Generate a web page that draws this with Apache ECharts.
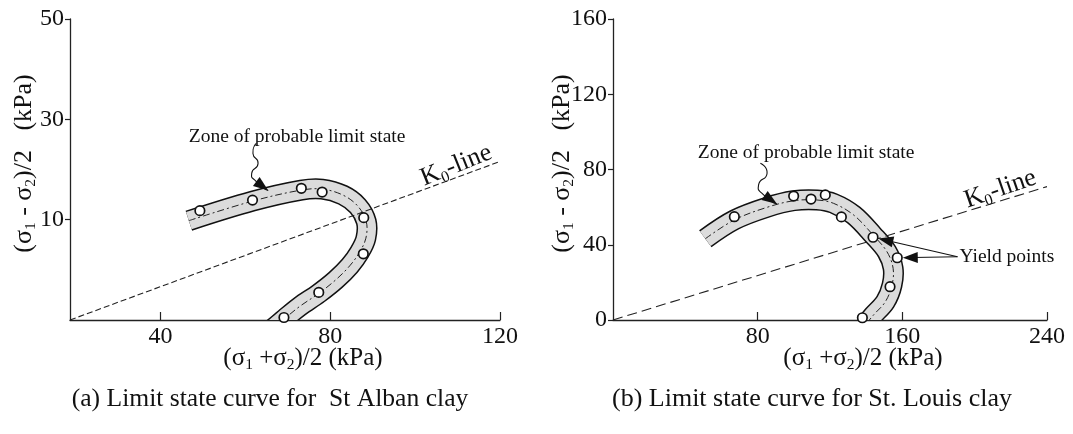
<!DOCTYPE html>
<html><head><meta charset="utf-8">
<script src="https://cdn.jsdelivr.net/npm/echarts@6/dist/echarts.min.js"></script>
<style>html,body{margin:0;padding:0;background:#fff}#c{width:1073px;height:434px}</style>
</head><body><div id="c"></div>
<script>
// ---------- Panel (a): St Alban clay ----------
const aXRange = [18.7, 120];
const aYRange = [-10, 50];
const aXTicks = [40, 80, 120];
const aYTicks = [10, 30, 50];
const aPoints = [[49.3,11.8],[61.7,13.9],[73.2,16.25],[78.1,15.5],[87.9,10.4],[87.8,3.2],[77.3,-4.5],[69.1,-9.5]];
const aZone = [[46.7,9.8],[61.7,13.7],[73.2,15.9],[78.1,16.1],[83.0,14.9],[86.5,12.7],[88.5,9.6],[88.4,6.3],[86.9,3.5],[84.6,0.8],[81.3,-2.0],[77.3,-4.7],[72.8,-7.3],[69.3,-9.7],[66.5,-11.7]];
const aK0 = [[18.7,-10],[120,21.6]];
const aZoneLabelAt = [72.2, 26.5];
const aZoneArrow = [[62.6,25.2],[61.8,23.2],[63.0,21.2],[61.5,19.2],[62.6,17.6],[65.4,15.8]];
const aK0LabelAt = [109.7, 20.8];

// ---------- Panel (b): St. Louis clay ----------
const bXRange = [0, 240];
const bYRange = [0, 160];
const bXTicks = [80, 160, 240];
const bYTicks = [0, 40, 80, 120, 160];
const bPoints = [[67.1,54.9],[99.9,65.9],[109.5,64.3],[117.4,66.5],[126.3,54.8],[143.8,44.0],[157.2,33.1],[153.2,17.7],[137.9,1.2]];
const bZone = [[51.05,43.2],[67.1,53.2],[85.2,59.9],[99.9,63.4],[112.8,63.8],[122.0,62.0],[133.1,55.8],[143.8,45.2],[151.5,36.3],[154.9,27.5],[154.3,18.6],[150.6,9.7],[144.1,2.7],[139.5,-2.7]];
const bK0 = [[0,0],[240,70.9]];
const bZoneLabelAt = [106.8, 88.9];
const bZoneArrow = [[81.5,83.3],[85.2,78.0],[80.5,71.8],[83.3,66.5],[90.7,61.7]];
const bK0LabelAt = [214.2, 69.6];
const bYieldAt = [190.5, 33.6];
const bYieldTargets = [5, 6]; // indices into bPoints

const TEXTS = {
  xName: '(σ{s|1} +σ{s|2})/2 (kPa)',
  yName: '(σ{s|1} - σ{s|2})/2   (kPa)',
  zone: 'Zone of probable limit state',
  k0: 'K{s|0}-line',
  yieldPts: 'Yield points',
  capA: '(a) Limit state curve for  St Alban clay',
  capB: '(b) Limit state curve for St. Louis clay'
};

const FONT = '"Liberation Serif","Times New Roman",serif';
const INK = '#111';

function nameStyle(size, padLeft) {
  return {
    fontFamily: FONT, fontSize: size, color: INK, lineHeight: 30,
    padding: [0, 0, 0, padLeft || 0],
    rich: { s: { fontFamily: FONT, fontSize: 15.5, color: INK, lineHeight: 18, verticalAlign: 'bottom' } }
  };
}

function makeX(grid, range, ticks, padLeft) {
  return {
    gridIndex: grid, type: 'value', min: range[0], max: range[1],
    axisLine: { show: true, onZero: false, lineStyle: { color: '#222', width: 1.3 } },
    axisTick: { show: true, inside: true, length: 8, customValues: ticks, lineStyle: { color: '#222', width: 1.2 } },
    axisLabel: { customValues: ticks, fontFamily: FONT, fontSize: 24, color: INK, margin: 5 },
    splitLine: { show: false },
    name: TEXTS.xName, nameLocation: 'middle', nameGap: 23, nameMoveOverlap: false,
    nameTextStyle: nameStyle(25, padLeft)
  };
}
function makeY(grid, range, ticks, gap) {
  return {
    gridIndex: grid, type: 'value', min: range[0], max: range[1],
    axisLine: { show: true, onZero: false, lineStyle: { color: '#222', width: 1.3 } },
    axisTick: { show: true, inside: false, length: 5, customValues: ticks, lineStyle: { color: '#222', width: 1.2 } },
    axisLabel: { customValues: ticks, fontFamily: FONT, fontSize: 24, color: INK, margin: 6 },
    splitLine: { show: false },
    name: TEXTS.yName, nameLocation: 'middle', nameGap: gap, nameMoveOverlap: false,
    nameTextStyle: nameStyle(26, 12)
  };
}

const SMOOTH = 0.35;
function bandRender(line) {
  return function (params, api) {
    if (params.dataIndex !== 0) return null;
    const pts = line.map(p => api.coord(p));
    return {
      type: 'group', children: [
        { type: 'polyline', shape: { points: pts, smooth: SMOOTH }, style: { stroke: '#111', lineWidth: 21, fill: null, lineJoin: 'round', lineCap: 'butt' } },
        { type: 'polyline', shape: { points: pts, smooth: SMOOTH }, style: { stroke: '#dcdcdc', lineWidth: 18, fill: null, lineJoin: 'round', lineCap: 'butt' } },
        { type: 'polyline', shape: { points: pts, smooth: SMOOTH }, style: { stroke: '#222', lineWidth: 1, fill: null, lineDash: [7, 3, 2, 3] } }
      ]
    };
  };
}

function head(tip, from, len, hw) {
  let dx = tip[0] - from[0], dy = tip[1] - from[1];
  const d = Math.sqrt(dx * dx + dy * dy) || 1; dx /= d; dy /= d;
  const bx = tip[0] - dx * len, by = tip[1] - dy * len;
  return { type: 'polygon', shape: { points: [tip, [bx - dy * hw, by + dx * hw], [bx + dy * hw, by - dx * hw]] }, style: { fill: '#111', stroke: null } };
}

function textEl(pos, text, size, align, rot) {
  return {
    type: 'text', x: pos[0], y: pos[1], rotation: (rot || 0) * Math.PI / 180,
    style: {
      text: text, fontFamily: FONT, fontSize: size, fill: INK,
      align: align, verticalAlign: 'middle', textAlign: align, textVerticalAlign: 'middle',
      lineHeight: size + 4,
      rich: { s: { fontFamily: FONT, fontSize: Math.round(size * 0.62), fill: INK, lineHeight: Math.round(size * 0.7), verticalAlign: 'bottom' } }
    }
  };
}

function annoRender(zoneAt, arrow, k0At, k0Rot, yieldAt, yieldTargets, points) {
  return function (params, api) {
    if (params.dataIndex !== 0) return null;
    const kids = [];
    kids.push(textEl(api.coord(zoneAt), TEXTS.zone, 19.5, 'center'));
    const ap = arrow.map(p => api.coord(p));
    kids.push({ type: 'polyline', shape: { points: ap, smooth: 0.7 }, style: { stroke: '#111', lineWidth: 1.1, fill: null } });
    kids.push(head(ap[ap.length - 1], ap[ap.length - 2], 15, 5.5));
    kids.push(textEl(api.coord(k0At), TEXTS.k0, 26, 'center', k0Rot));
    if (yieldAt) {
      const A = api.coord(yieldAt);
      kids.push(textEl([A[0] + 2, A[1]], TEXTS.yieldPts, 19.5, 'left'));
      yieldTargets.forEach(i => {
        const C = api.coord(points[i]);
        let dx = A[0] - C[0], dy = A[1] - C[1];
        const d = Math.sqrt(dx * dx + dy * dy); dx /= d; dy /= d;
        const tip = [C[0] + dx * 5.5, C[1] + dy * 5.5];
        kids.push({ type: 'line', shape: { x1: A[0], y1: A[1], x2: tip[0] + dx * 10, y2: tip[1] + dy * 10 }, style: { stroke: '#111', lineWidth: 1.1 } });
        kids.push(head(tip, A, 15, 5.5));
      });
    }
    return { type: 'group', children: kids };
  };
}

function scatterS(xi, data) {
  return { type: 'scatter', xAxisIndex: xi, yAxisIndex: xi, data: data, symbol: 'circle', symbolSize: 9.5, z: 5,
    itemStyle: { color: '#fff', borderColor: '#111', borderWidth: 1.7, opacity: 1 }, silent: true };
}
function k0S(xi, data, dash) {
  return { type: 'line', xAxisIndex: xi, yAxisIndex: xi, data: data, showSymbol: false, symbol: 'none', z: 4, silent: true,
    lineStyle: { color: '#222', width: 1.1, type: dash } };
}

const chart = echarts.init(document.getElementById('c'), null, { renderer: 'canvas' });
chart.setOption({
  animation: false,
  backgroundColor: '#fff',
  grid: [
    { left: 70, top: 19, width: 430, height: 301 },
    { left: 613, top: 19, width: 434, height: 301 }
  ],
  xAxis: [makeX(0, aXRange, aXTicks, 36), makeX(1, bXRange, bXTicks, 66)],
  yAxis: [makeY(0, aYRange, aYTicks, 31), makeY(1, bYRange, bYTicks, 36)],
  series: [
    { type: 'custom', xAxisIndex: 0, yAxisIndex: 0, data: [aZone[0]], renderItem: bandRender(aZone), clip: true, z: 2, silent: true },
    k0S(0, aK0, [6, 3]),
    scatterS(0, aPoints),
    { type: 'custom', xAxisIndex: 0, yAxisIndex: 0, data: [aZone[0]], renderItem: annoRender(aZoneLabelAt, aZoneArrow, aK0LabelAt, 22, null, null, aPoints), clip: false, z: 6, silent: true },
    { type: 'custom', xAxisIndex: 1, yAxisIndex: 1, data: [bZone[0]], renderItem: bandRender(bZone), clip: true, z: 2, silent: true },
    k0S(1, bK0, [10, 5]),
    scatterS(1, bPoints),
    { type: 'custom', xAxisIndex: 1, yAxisIndex: 1, data: [bZone[0]], renderItem: annoRender(bZoneLabelAt, bZoneArrow, bK0LabelAt, 19, bYieldAt, bYieldTargets, bPoints), clip: false, z: 6, silent: true }
  ],
  graphic: [
    { type: 'text', x: 270, y: 399, style: { text: TEXTS.capA, fontFamily: FONT, fontSize: 25.6, fill: INK, align: 'center', verticalAlign: 'middle', textAlign: 'center', textVerticalAlign: 'middle' } },
    { type: 'text', x: 812, y: 399, style: { text: TEXTS.capB, fontFamily: FONT, fontSize: 26, fill: INK, align: 'center', verticalAlign: 'middle', textAlign: 'center', textVerticalAlign: 'middle' } }
  ]
});
</script></body></html>
